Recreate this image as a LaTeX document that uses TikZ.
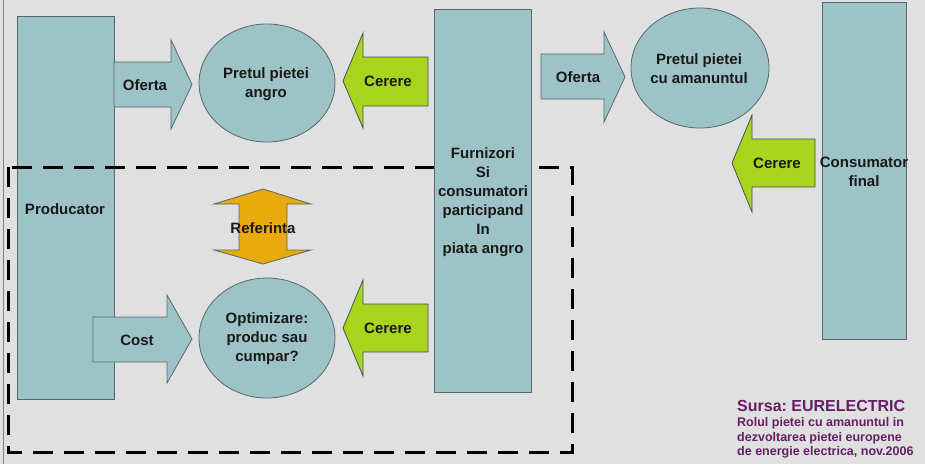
\documentclass[tikz,border=0pt]{standalone}
\usepackage{fontspec}
\setmainfont{Liberation Sans}[BoldFont={Liberation Sans Bold}]
\frenchspacing
\definecolor{bgcol}{RGB}{224,224,224}
\definecolor{boxfill}{RGB}{157,195,199}
\definecolor{boxline}{RGB}{85,105,108}
\definecolor{demand}{RGB}{168,212,30}
\definecolor{refcol}{RGB}{232,170,12}
\definecolor{srccol}{RGB}{102,30,102}
\tikzset{
	block/.style={draw=boxline, fill=boxfill, line width=0.8pt},
	demandarrow/.style={draw=boxline!80!black, fill=demand, line width=0.8pt},
	refarrow/.style={draw=boxline, fill=refcol, line width=0.8pt},
	zone/.style={draw=black, line width=3pt, dash pattern={on 20pt off 11pt}},
	lbl/.style={font=\bfseries\fontsize{15}{19}\selectfont, text=black!90, align=center, inner sep=0pt},
	srclbl/.style={font=\bfseries\fontsize{12.5}{15}\selectfont, text=srccol, anchor=west, inner sep=0pt},
}

\begin{document}
\begin{tikzpicture}[x=1pt,y=-1pt]
		\useasboundingbox (0,0) rectangle (925,464);
		\fill [bgcol] (0,0) rectangle (925,464);
		\draw [gray, line width=1pt] (3.5,0) -- (3.5,464);
		% producer and the zone it optimises
		\draw [block] (17,16) rectangle (114,399);
		\draw [zone] (8,167) rectangle (572,452);
		\draw [block] (434,9) rectangle (531,392);
		\draw [block] (822,2) rectangle (906,339);
		% market prices
		\draw [block] (267,83) ellipse [x radius=68, y radius=59];
		\draw [block] (700,68) ellipse [x radius=69, y radius=60];
		\draw [block] (267,338) ellipse [x radius=68, y radius=60];
		% offer arrows
		\draw [block] (114,62) -- (171,62) -- (171,40) -- (192,84.5) -- (171,129) -- (171,107) -- (114,107) -- cycle;
		\draw [block] (541,54) -- (604,54) -- (604,32) -- (625,77) -- (604,122) -- (604,99) -- (541,99) -- cycle;
		\draw [block] (93,317) -- (167,317) -- (167,295) -- (192,339) -- (167,383) -- (167,362) -- (93,362) -- cycle;
		% demand arrows
		\draw [demandarrow] (428,57) -- (363,57) -- (363,33) -- (343,81) -- (363,128) -- (363,106) -- (428,106) -- cycle;
		\draw [demandarrow] (428,304) -- (363,304) -- (363,280) -- (343,328) -- (363,376) -- (363,352) -- (428,352) -- cycle;
		\draw [demandarrow] (815,139) -- (752,139) -- (752,115) -- (732,163) -- (752,212) -- (752,187) -- (815,187) -- cycle;
		\draw [refarrow] (263,189) -- (311,204) -- (287,204) -- (287,250) -- (311,250) -- (263,264) -- (214,250) -- (239,250) -- (239,204) -- (214,204) -- cycle;
		% labels
		\node [lbl] (producator) at (65,209) {Producator};
		\node [lbl] (furnizori) at (483,202) {Furnizori\\Si\\consumatori\\participand\\In\\piata angro};
		\node [lbl] (consumator) at (864,172) {Consumator\\final};
		\node [lbl] (angro) at (266,84) {Pretul pietei\\angro};
		\node [lbl] (amanunt) at (699,69) {Pretul pietei\\cu amanuntul};
		\node [lbl] (optim) at (267,339) {Optimizare:\\produc sau\\cumpar?};
		\node [lbl] (oferta1) at (145,85) {Oferta};
		\node [lbl] (oferta2) at (578,77) {Oferta};
		\node [lbl] (cost) at (137,340) {Cost};
		\node [lbl] (cerere1) at (388,81) {Cerere};
		\node [lbl] (cerere2) at (388,328) {Cerere};
		\node [lbl] (cerere3) at (777,163) {Cerere};
		\node [lbl] (referinta) at (263,228) {Referinta};
		\node [srclbl, font=\bfseries\fontsize{16}{19}\selectfont] (sursa) at (737,406) {Sursa: EURELECTRIC};
		\node [srclbl] (src1) at (737,423) {Rolul pietei cu amanuntul in};
		\node [srclbl] (src2) at (737,438) {dezvoltarea pietei europene};
		\node [srclbl] (src3) at (737,452) {de energie electrica, nov.2006};
\end{tikzpicture}
\end{document}
